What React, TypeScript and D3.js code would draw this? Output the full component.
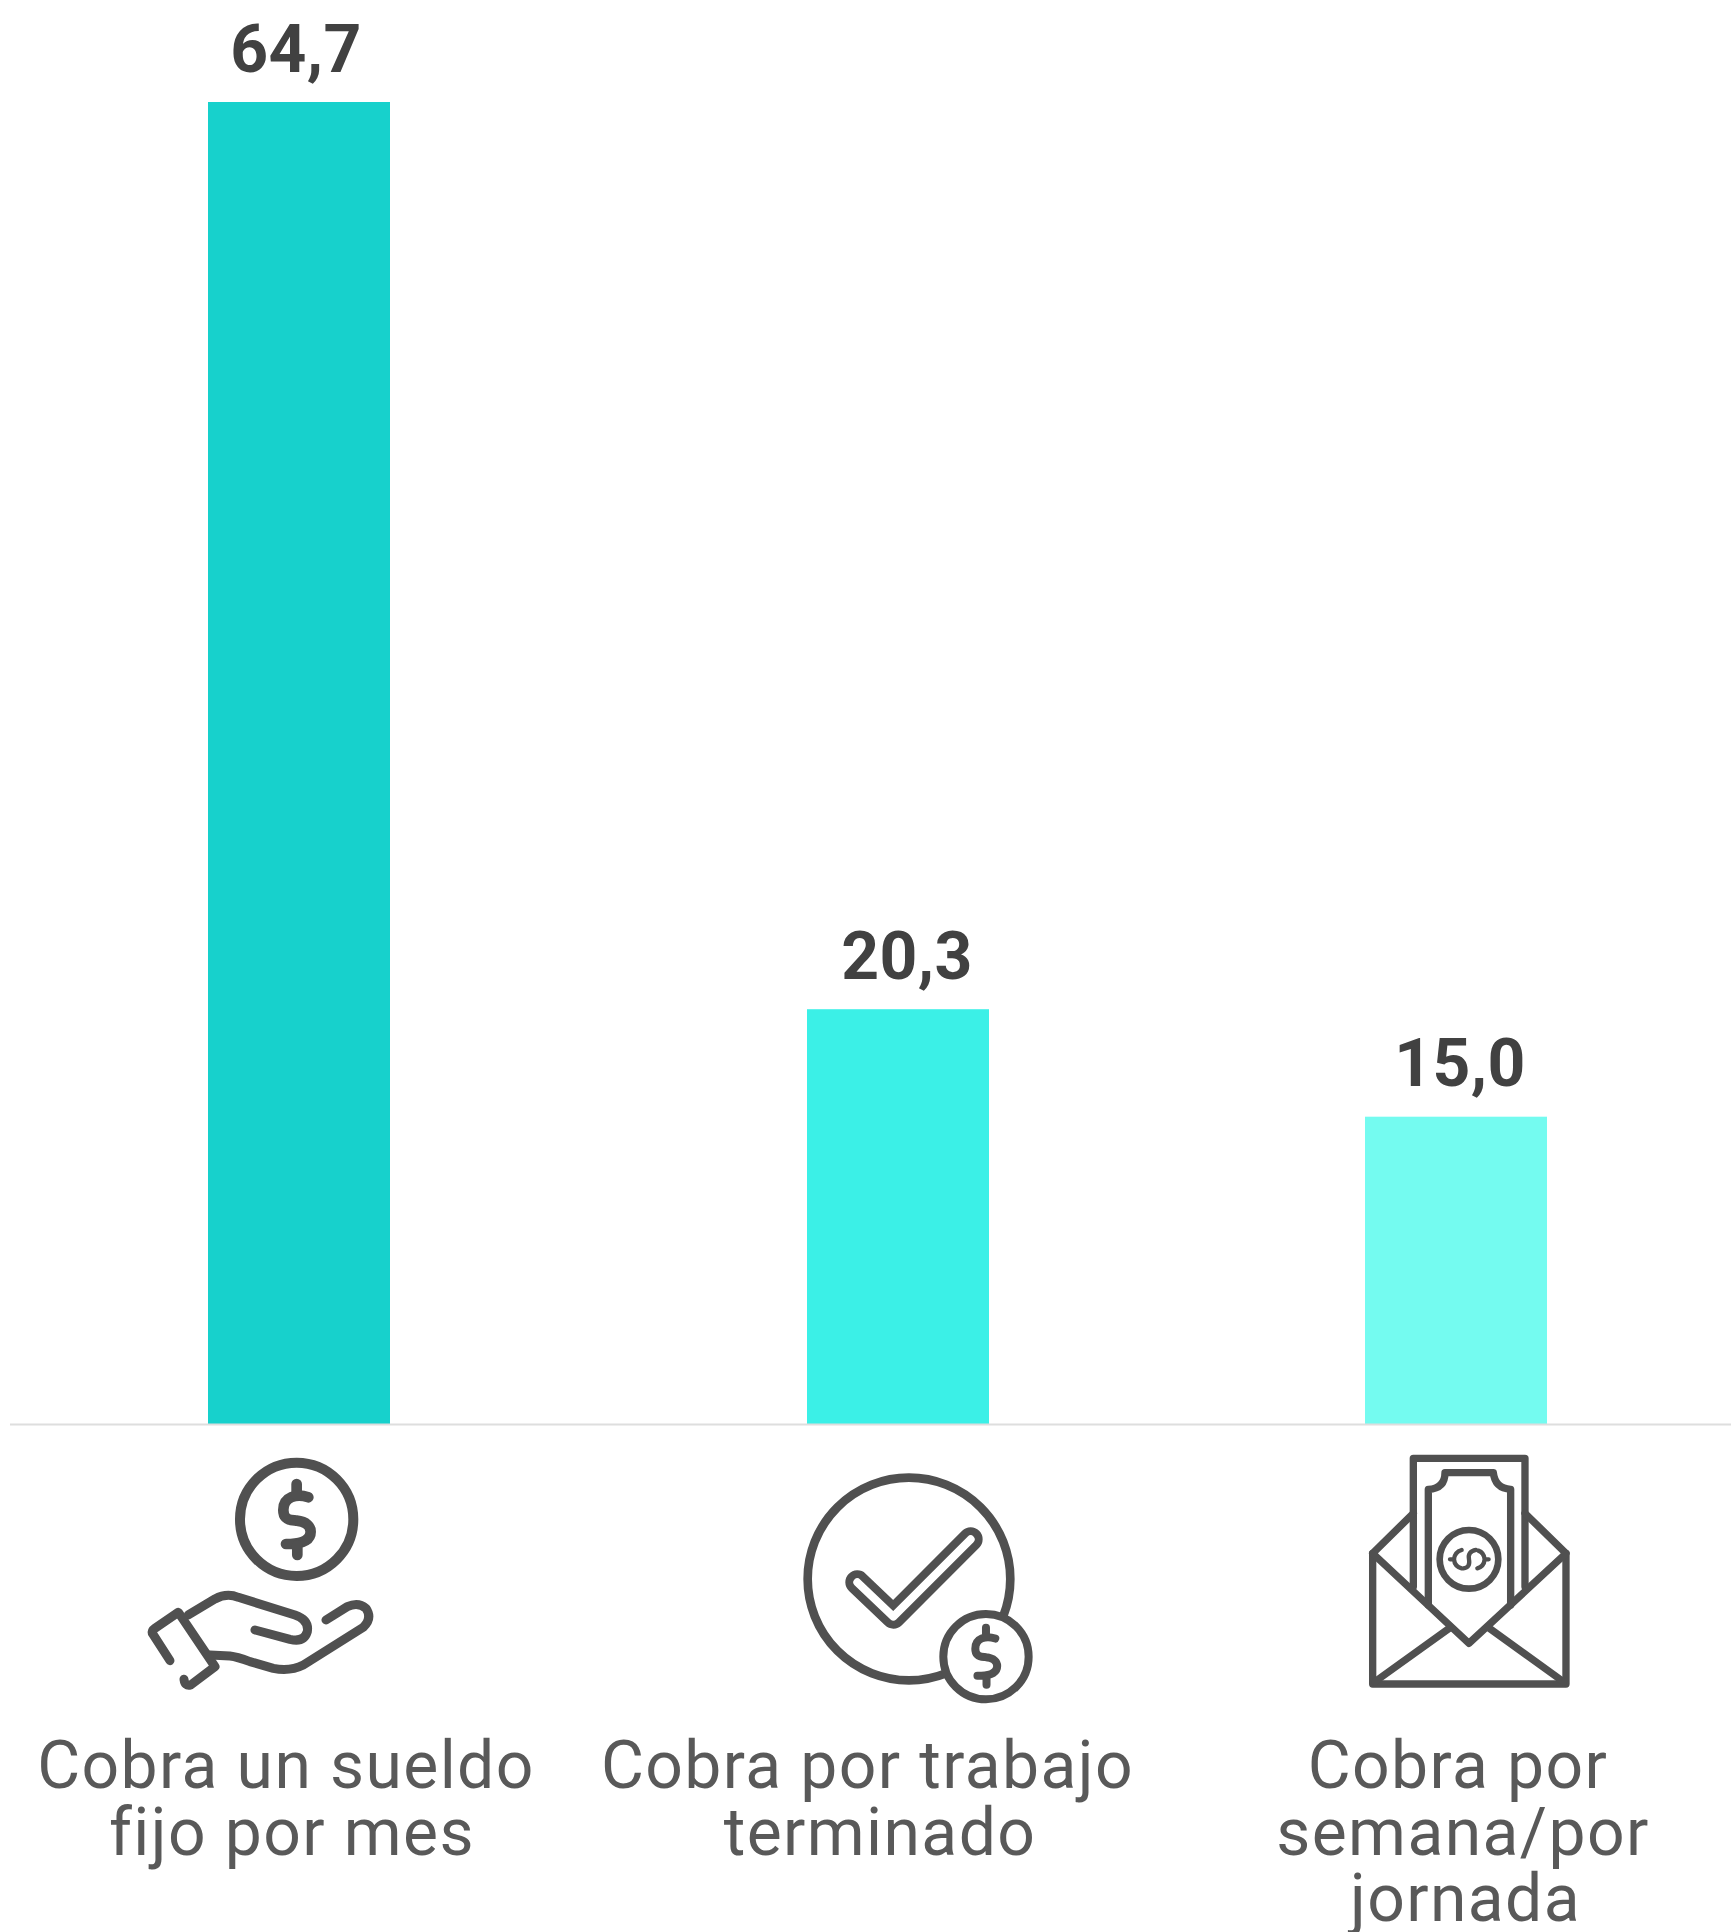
import React from "react";
import * as d3 from "d3";

const categories = ["sueldo", "trabajo", "jornada"];
const values = [64.7, 20.3, 15.04];
const valueLabels = ["64,7", "20,3", "15,0"];
const labelLines = [
  ["Cobra un sueldo", "fijo por mes"],
  ["Cobra por trabajo", "terminado"],
  ["Cobra por", "semana/por", "jornada"],
];
const barColors = ["#17d1cc", "#3bf0e7", "#74fbf0"];

const W = 1731;
const H = 1932;
const baseY = 1424;
const FONT = "Roboto, sans-serif";

const y = d3.scaleLinear().domain([0, 64.7]).range([baseY, 102]);
const xLeft = d3.scaleOrdinal<string, number>().domain(categories).range([208, 807, 1365]);
const barW = 182;
const valueX = d3.scaleOrdinal<string, number>().domain(categories).range([296, 907, 1460]);
const lineX = [[286, 292], [867.5, 880], [1458, 1463, 1465.5]];

const DARK = "#505050";

function Dollar({ sw }: { sw: number }) {
  return (
    <g fill="none" stroke={DARK} strokeWidth={sw} strokeLinecap="round" strokeLinejoin="round">
      <path d="M35 -68 C0 -80 -40 -70 -40 -30 C-40 5 -10 0 0 2 C30 5 42 20 42 35 C42 65 10 72 -32 72" />
      <path d="M0 -108 L0 -75 M2 75 L2 105" />
    </g>
  );
}

function IconHand() {
  return (
    <g transform="translate(120,1400) scale(0.3333)" fill="none" stroke={DARK} strokeLinecap="round" strokeLinejoin="round">
      <circle cx={530} cy={358} r={170} strokeWidth={30} />
      <g transform="translate(530,360)"><Dollar sw={32} /></g>
      <g strokeWidth={27}>
        <path d="M205 645 L285 597 Q320 578 355 592 L525 645 Q568 660 562 695 Q552 728 510 718 L405 690" />
        <path d="M270 765 L330 768 Q350 770 390 785 L460 805 Q510 815 550 795 L730 682 Q758 655 738 625 Q715 605 682 620 L618 660" />
        <path d="M150 782 L97 700 Q95 692 105 685 L175 637 L285 800 L212 855 Q195 860 192 838" />
      </g>
    </g>
  );
}

function IconCheck() {
  return (
    <g transform="translate(780,1440) scale(0.3333)" fill="none" strokeLinecap="round" strokeLinejoin="round">
      <circle cx={387} cy={417} r={304} stroke={DARK} strokeWidth={26} />
      <polyline points="232,427 340,530 572,298" stroke={DARK} strokeWidth={72} />
      <polyline points="232,427 340,530 572,298" stroke="#ffffff" strokeWidth={24} />
      <circle cx={618} cy={650} r={128} fill="#ffffff" stroke={DARK} strokeWidth={24} />
      <g transform="translate(618,650) scale(0.8)"><Dollar sw={30} /></g>
    </g>
  );
}

function IconEnvelope() {
  return (
    <g transform="translate(1350,1430) scale(0.3333)" fill="none" stroke={DARK} strokeWidth={22} strokeLinecap="round" strokeLinejoin="round">
      <path d="M190 470 L190 85 L525 85 L525 470" />
      <path d="M235 525 L235 178 Q285 175 285 128 L430 128 Q435 175 482 178 L482 525" />
      <path d="M68 370 L68 762 L648 762 L648 370" />
      <path d="M68 370 L357 640 L648 370 M68 370 L190 250 M648 370 L525 250" />
      <path d="M75 755 L298 595 M640 755 L418 595" />
      <circle cx={357} cy={388} r={88} strokeWidth={20} />
      <path d="M340 415 Q362 412 357 388 Q352 365 378 360 M335 360 Q314 366 312 388 Q314 410 335 415 M300 388 L312 388 M385 362 Q402 368 404 388 Q402 410 382 415 M404 388 L416 388" strokeWidth={13} />
    </g>
  );
}

export default function App() {
  return (
    <svg width={W} height={H} viewBox={`0 0 ${W} ${H}`} style={{ position: "absolute", left: 0, top: 0, background: "#fff" }}>
      {categories.map((c, i) => (
        <rect key={c} x={xLeft(c)} y={y(values[i])} width={barW} height={baseY - y(values[i])} fill={barColors[i]} />
      ))}
      <line x1={10} x2={W} y1={baseY + 0.5} y2={baseY + 0.5} stroke="#dedede" strokeWidth={2} />
      {categories.map((c, i) => (
        <text key={c} x={valueX(c)} y={y(values[i]) - 30.5} textAnchor="middle" fontFamily={FONT} fontWeight={700} fontSize={66} letterSpacing={0.4} fill="#414141">
          {valueLabels[i]}
        </text>
      ))}
      <IconHand />
      <IconCheck />
      <IconEnvelope />
      {labelLines.map((lines, i) =>
        lines.map((t, j) => (
          <text key={t} x={lineX[i][j]} y={1788 + j * 66.5} textAnchor="middle" fontFamily={FONT} fontSize={66} letterSpacing={1.4} fill="#595959">
            {t}
          </text>
        ))
      )}
    </svg>
  );
}
